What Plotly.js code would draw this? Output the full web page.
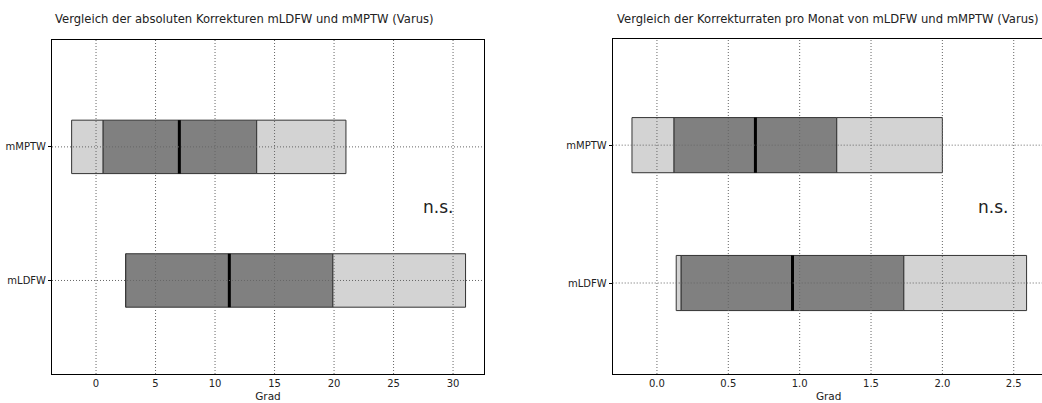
<!DOCTYPE html>
<html>
<head>
<meta charset="utf-8">
<script src="https://cdn.plot.ly/plotly-3.0.1.min.js"></script>
<style>
  html, body { margin: 0; padding: 0; overflow: hidden; background: #fff; }
  #chart { width: 1046px; height: 403px; }
</style>
</head>
<body>
<div id="chart"></div>
<script>
// Categories, plotted at y = 1 (mLDFW) and y = 2 (mMPTW)
const categories = ['mLDFW', 'mMPTW'];
const catPos = [1, 2];

// Absolute corrections (Grad): min, lower quartile, median, upper quartile, max
const absMin = [2.5, -2.05];
const absQ1  = [2.5, 0.6];
const absMed = [11.2, 7.0];
const absQ3  = [19.9, 13.5];
const absMax = [31.05, 21.0];

// Correction rates per month
const rateMin = [0.135, -0.175];
const rateQ1  = [0.17, 0.12];
const rateMed = [0.95, 0.69];
const rateQ3  = [1.73, 1.26];
const rateMax = [2.59, 2.0];

const absTicks  = [0, 5, 10, 15, 20, 25, 30];
const rateTicks = [0, 0.5, 1.0, 1.5, 2.0, 2.5];
const rateTickText = ['0.0', '0.5', '1.0', '1.5', '2.0', '2.5'];

const FONT = 'DejaVu Sans, sans-serif';
const TXT = '#222';
const LIGHT = '#d3d3d3';
const DARK = '#808080';
const EDGE = '#333';
const BOXW = 0.4;

function diff(a, b) { return a.map((v, i) => v - b[i]); }

function boxTraces(mn, q1, med, q3, mx, xa, ya) {
  const seg = (base, top, color) => ({
    type: 'bar', orientation: 'h', y: catPos, base: base, x: diff(top, base),
    width: BOXW, marker: { color: color, line: { color: EDGE, width: 1 } },
    xaxis: xa, yaxis: ya, hoverinfo: 'skip', showlegend: false
  });
  const mx_ = [], my_ = [];
  med.forEach((m, i) => {
    mx_.push(m, m, null);
    my_.push(catPos[i] - BOXW / 2, catPos[i] + BOXW / 2, null);
  });
  return [
    seg(mn, q1, LIGHT),
    seg(q1, q3, DARK),
    seg(q3, mx, LIGHT),
    { type: 'scatter', mode: 'lines', x: mx_, y: my_, xaxis: xa, yaxis: ya,
      line: { color: '#000', width: 3 }, hoverinfo: 'skip', showlegend: false }
  ];
}

// dotted grid drawn on top of the boxes
function gridShapes(xTicks, xa, ya) {
  const sh = [];
  const st = { color: '#666', width: 1, dash: '1px,2px' };
  xTicks.forEach(t => sh.push({ type: 'line', layer: 'above', xref: xa, yref: ya + ' domain',
    x0: t, x1: t, y0: 0, y1: 1, line: st }));
  catPos.forEach(p => sh.push({ type: 'line', layer: 'above', xref: xa + ' domain', yref: ya,
    x0: 0, x1: 1, y0: p, y1: p, line: st }));
  return sh;
}

const W = 1046, H = 403;
const px = v => v / W;
const py = v => 1 - v / H;

const axisBase = {
  showline: true, mirror: true, linecolor: '#000', linewidth: 1,
  showgrid: false, zeroline: false, fixedrange: true,
  tickfont: { family: FONT, size: 10, color: TXT }
};

const data = [].concat(
  boxTraces(absMin, absQ1, absMed, absQ3, absMax, 'x', 'y'),
  boxTraces(rateMin, rateQ1, rateMed, rateQ3, rateMax, 'x2', 'y2')
);

const layout = {
  width: W, height: H,
  margin: { l: 0, r: 0, t: 0, b: 0 },
  paper_bgcolor: '#fff', plot_bgcolor: '#fff',
  barmode: 'overlay',
  xaxis: Object.assign({}, axisBase, {
    domain: [px(52), px(484)], range: [-3.7, 32.6], anchor: 'y',
    tickvals: absTicks, ticks: '',
    title: { text: 'Grad', font: { family: FONT, size: 10.5, color: TXT }, standoff: 4 }
  }),
  yaxis: Object.assign({}, axisBase, {
    domain: [py(374), py(40)], range: [0.3, 2.8], anchor: 'x',
    tickvals: catPos, ticktext: categories, ticks: 'outside', ticklen: 3, tickcolor: '#000'
  }),
  xaxis2: Object.assign({}, axisBase, {
    domain: [px(612.7), px(1044.7)], range: [-0.31, 2.717], anchor: 'y2',
    tickvals: rateTicks, ticktext: rateTickText, ticks: '',
    title: { text: 'Grad', font: { family: FONT, size: 10.5, color: TXT }, standoff: 4 }
  }),
  yaxis2: Object.assign({}, axisBase, {
    domain: [py(374), py(39)], range: [0.34, 2.77], anchor: 'x2',
    tickvals: catPos, ticktext: categories, ticks: 'outside', ticklen: 3, tickcolor: '#000'
  }),
  shapes: gridShapes(absTicks, 'x', 'y').concat(gridShapes(rateTicks, 'x2', 'y2')),
  annotations: [
    { text: 'Vergleich der absoluten Korrekturen mLDFW und mMPTW (Varus)',
      xref: 'paper', yref: 'paper', x: px(53), y: py(19), xanchor: 'left', yanchor: 'middle',
      showarrow: false, font: { family: FONT, size: 11.6, color: TXT } },
    { text: 'Vergleich der Korrekturraten pro Monat von mLDFW und mMPTW (Varus)',
      xref: 'paper', yref: 'paper', x: px(614.5), y: py(19), xanchor: 'left', yanchor: 'middle',
      showarrow: false, font: { family: FONT, size: 11.6, color: TXT } },
    { text: 'n.s.', xref: 'x', yref: 'y', x: 28.7, y: 1.55, showarrow: false,
      font: { family: FONT, size: 17, color: TXT } },
    { text: 'n.s.', xref: 'x2', yref: 'y2', x: 2.355, y: 1.55, showarrow: false,
      font: { family: FONT, size: 17, color: TXT } }
  ]
};

Plotly.newPlot('chart', data, layout, { displayModeBar: false, staticPlot: true });
</script>
</body>
</html>
